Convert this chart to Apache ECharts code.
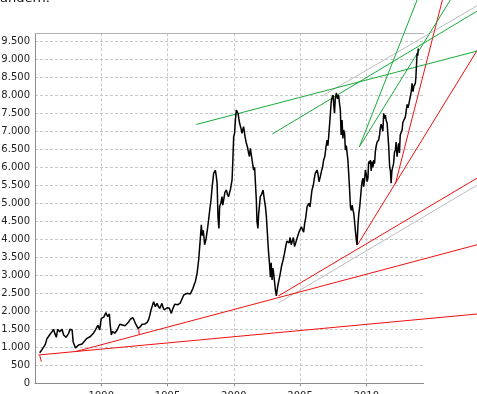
<!DOCTYPE html>
<html><head><meta charset="utf-8">
<script src="https://cdn.jsdelivr.net/npm/echarts@6/dist/echarts.min.js"></script>
<style>html,body{margin:0;padding:0;background:#fff;overflow:hidden}#c{width:477px;height:394px}</style>
</head><body><div id="c"></div>
<script>
// Index history (decimal year, value)
const years = [1985.35,1985.5,1985.65,1985.78,1985.9,1986.02,1986.15,1986.28,1986.4,1986.5,1986.61,1986.71,1986.86,1986.95,1987.04,1987.16,1987.25,1987.34,1987.45,1987.54,1987.64,1987.72,1987.8,1987.88,1987.97,1988.05,1988.1,1988.2,1988.29,1988.42,1988.55,1988.68,1988.8,1988.92,1989.05,1989.18,1989.3,1989.42,1989.55,1989.65,1989.75,1989.88,1990.0,1990.09,1990.18,1990.27,1990.36,1990.48,1990.55,1990.61,1990.68,1990.76,1990.85,1990.93,1991.02,1991.11,1991.2,1991.31,1991.4,1991.49,1991.6,1991.69,1991.8,1991.94,1992.06,1992.19,1992.28,1992.37,1992.47,1992.57,1992.67,1992.77,1992.85,1992.95,1993.08,1993.2,1993.3,1993.38,1993.48,1993.58,1993.67,1993.75,1993.85,1993.95,1994.08,1994.15,1994.21,1994.3,1994.41,1994.5,1994.58,1994.67,1994.76,1994.86,1994.96,1995.05,1995.14,1995.22,1995.29,1995.38,1995.46,1995.56,1995.66,1995.75,1995.84,1995.96,1996.09,1996.22,1996.35,1996.47,1996.6,1996.72,1996.82,1996.92,1997.02,1997.1,1997.23,1997.35,1997.45,1997.55,1997.62,1997.7,1997.8,1997.9,1998.0,1998.1,1998.18,1998.28,1998.38,1998.48,1998.61,1998.68,1998.74,1998.81,1998.88,1998.93,1999.02,1999.11,1999.17,1999.23,1999.33,1999.44,1999.52,1999.61,1999.68,1999.74,1999.8,1999.87,1999.93,1999.99,2000.06,2000.12,2000.19,2000.25,2000.32,2000.38,2000.44,2000.53,2000.62,2000.68,2000.74,2000.85,2000.95,2001.04,2001.12,2001.18,2001.25,2001.32,2001.38,2001.44,2001.5,2001.57,2001.63,2001.7,2001.75,2001.82,2001.88,2001.94,2002.0,2002.1,2002.21,2002.31,2002.39,2002.46,2002.53,2002.61,2002.7,2002.76,2002.82,2002.89,2002.95,2003.01,2003.08,2003.14,2003.21,2003.31,2003.4,2003.51,2003.6,2003.72,2003.82,2003.92,2004.0,2004.08,2004.17,2004.25,2004.33,2004.42,2004.5,2004.58,2004.67,2004.75,2004.83,2004.92,2005.02,2005.1,2005.18,2005.27,2005.35,2005.43,2005.53,2005.6,2005.67,2005.75,2005.83,2005.9,2006.0,2006.08,2006.15,2006.28,2006.36,2006.43,2006.53,2006.62,2006.7,2006.78,2006.87,2006.95,2007.04,2007.1,2007.16,2007.23,2007.29,2007.36,2007.43,2007.49,2007.55,2007.6,2007.66,2007.74,2007.82,2007.91,2007.97,2008.04,2008.1,2008.17,2008.23,2008.29,2008.36,2008.42,2008.49,2008.55,2008.61,2008.67,2008.74,2008.8,2008.87,2008.93,2009.0,2009.05,2009.11,2009.17,2009.24,2009.3,2009.37,2009.43,2009.5,2009.55,2009.62,2009.68,2009.75,2009.8,2009.87,2009.93,2010.0,2010.06,2010.12,2010.18,2010.25,2010.31,2010.37,2010.43,2010.5,2010.56,2010.62,2010.68,2010.75,2010.81,2010.87,2010.93,2011.0,2011.06,2011.12,2011.19,2011.25,2011.31,2011.38,2011.44,2011.5,2011.57,2011.63,2011.69,2011.76,2011.82,2011.87,2011.93,2012.0,2012.06,2012.12,2012.19,2012.25,2012.32,2012.38,2012.44,2012.5,2012.56,2012.63,2012.7,2012.76,2012.83,2012.89,2012.95,2013.02,2013.08,2013.14,2013.2,2013.27,2013.33,2013.39,2013.45,2013.5,2013.53,2013.58,2013.64,2013.7,2013.74,2013.78,2013.83,2013.88,2013.92];
const values = [850,920,972,1080,1240,1300,1370,1430,1500,1380,1278,1500,1433,1480,1500,1342,1300,1278,1330,1389,1500,1528,1480,1150,1064,980,940,1030,1064,1070,1092,1150,1203,1250,1278,1300,1342,1400,1480,1550,1611,1480,1805,1790,1833,1900,1961,1850,1900,1925,1600,1342,1440,1433,1390,1400,1480,1572,1640,1683,1620,1620,1600,1650,1700,1777,1740,1822,1760,1667,1600,1528,1545,1572,1640,1694,1650,1667,1700,1777,1900,2036,2150,2267,2128,2180,2220,2140,2083,2150,2220,2100,2036,2080,2100,2060,2083,2000,1944,2050,2128,2200,2240,2180,2200,2230,2270,2453,2470,2500,2545,2480,2560,2640,2750,2822,3055,3425,3900,4400,4100,4250,3850,4000,4250,4536,4800,5092,5500,5833,5925,5750,5555,4600,4300,4906,5000,5185,4950,5000,5300,5370,5250,5185,5300,5370,5500,5648,6200,6850,6944,7300,7592,7550,7500,7350,7222,7100,6944,7050,7128,6850,6667,6550,6389,6300,6528,6350,6203,6050,5925,6000,6017,5100,4500,4300,4722,4950,5185,5250,5370,5092,4900,4628,4200,3702,3300,2950,3350,2870,3200,3055,2800,2592,2425,2683,2850,3055,3250,3425,3600,3800,3950,4000,3900,4050,3850,3950,4050,3800,3900,4000,4050,4200,4250,4350,4300,4200,4450,4600,4906,4950,5000,4900,5150,5370,5500,5700,5833,5925,5800,5600,5740,5900,6000,6203,6300,6550,6758,6600,6850,7200,7500,7850,7950,8008,7700,7500,7916,8064,7900,8008,7800,7592,6900,7314,6800,7036,6950,6481,6600,6572,6200,5833,5370,4906,4800,4950,4800,4730,4500,4258,4000,3842,4400,4700,4900,5100,5400,5600,5700,5461,5650,5925,5800,5600,5700,6157,6100,6200,5900,6157,6000,6200,6100,6433,6600,6700,6650,6758,6900,7100,7200,7222,7000,7500,7350,7450,7300,7222,6900,6572,6017,5900,5555,5900,5950,6111,6400,6481,6700,6294,6500,6667,6400,6900,6850,7036,7250,7200,7350,7407,7600,7750,7650,7731,7870,7900,8100,8333,8200,8100,8250,8200,8333,8500,8794,9167,9100,9300];

// Trend lines drawn on the chart: [startYear, startValue, endYear, endValue]
const redLines = [
  [1985.25, 786, 2018.38, 1925],
  [1988.04, 878, 2018.38, 3850],
  [2003.36, 2425, 2018.38, 5703],
  [2009.33, 3842, 2018.38, 9258],
  [2012.19, 5536, 2015.74, 10647],
  [1985.36, 772, 1985.48, 600],
  [1992.83, 1522, 1992.86, 1356]
];
const greenLines = [
  [1997.17, 7189, 2018.38, 9231],
  [2002.91, 6925, 2018.38, 10342],
  [2009.47, 6564, 2016.34, 10647],
  [2009.47, 6564, 2013.83, 10647]
];
const grayLines = [
  [2003.36, 2231, 2018.38, 5508],
  [2006.68, 7981, 2018.38, 10492]
];

const xMin = 1985, xMax = 2014.33, xStep = 5;
const yMin = 0, yMax = 9722, yStep = 500;
const topText = 'andern.';

const FONT = 'DejaVu Sans';
const chart = echarts.init(document.getElementById('c'), null, {renderer: 'canvas'});
const fmtThousands = v => String(Math.round(v)).replace(/\B(?=(\d{3})+(?!\d))/g, '.');
const trendSeries = (rows, color, z) => ({
  type: 'custom', data: rows, clip: false, silent: true, z: z, animation: false,
  encode: {x: [0, 2], y: [1, 3]},
  renderItem: (params, api) => {
    const p1 = api.coord([api.value(0), api.value(1)]);
    const p2 = api.coord([api.value(2), api.value(3)]);
    return {type: 'line', shape: {x1: p1[0], y1: p1[1], x2: p2[0], y2: p2[1]},
      style: {stroke: color, lineWidth: 1, fill: null}};
  }
});
const blackData = years.map((y, i) => [y, values[i]]);

chart.setOption({
  animation: false,
  backgroundColor: '#ffffff',
  grid: {left: 35, right: 53.3, top: 33.3, bottom: 10.7, containLabel: false, outerBoundsMode: 'none'},
  graphic: [{
    type: 'text', left: 0, top: -8,
    style: {text: topText, font: '13px "' + FONT + '"', fill: '#111'}
  }],
  xAxis: [{
    type: 'value', min: xMin, max: xMax, interval: xStep,
    axisLine: {show: true, lineStyle: {color: '#8c8c8c', width: 1}},
    axisTick: {show: true, length: 3, lineStyle: {color: '#8c8c8c'}},
    axisLabel: {show: true, fontFamily: FONT, fontSize: 10, color: '#222', margin: 8,
      showMinLabel: false, showMaxLabel: false, formatter: v => String(v)},
    splitLine: {show: true, showMinLine: false, showMaxLine: false,
      lineStyle: {color: '#c8c8c8', type: [3, 2], width: 1}}
  }, {
    type: 'value', position: 'top', min: xMin, max: xMax,
    axisLine: {show: true, onZero: false, lineStyle: {color: '#b4b4b4', width: 1}},
    axisTick: {show: false}, axisLabel: {show: false}, splitLine: {show: false}
  }],
  yAxis: {
    type: 'value', min: yMin, max: yMax, interval: yStep,
    axisLine: {show: true, lineStyle: {color: '#8c8c8c', width: 1}},
    axisTick: {show: false},
    axisLabel: {show: true, fontFamily: FONT, fontSize: 10, color: '#222', margin: 5,
      showMaxLabel: false, formatter: fmtThousands},
    splitLine: {show: true, showMinLine: false, showMaxLine: false,
      lineStyle: {color: '#c8c8c8', type: [3, 2], width: 1}}
  },
  series: [
    trendSeries(grayLines, '#bdbdbd', 2),
    trendSeries(redLines, '#ee1111', 3),
    trendSeries(greenLines, '#1aaa3a', 4),
    {type: 'line', data: blackData, showSymbol: false, silent: true,
      lineStyle: {color: '#000', width: 1.5}, z: 5, animation: false}
  ]
});
</script></body></html>
